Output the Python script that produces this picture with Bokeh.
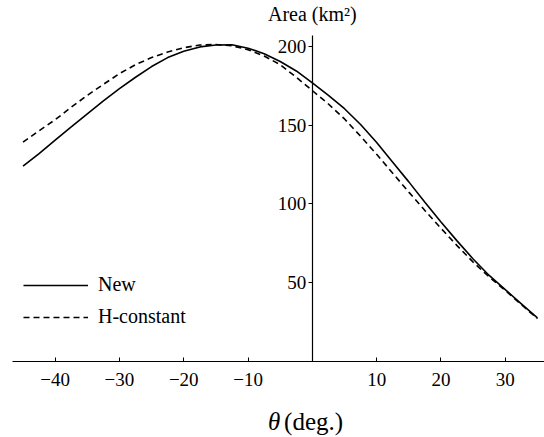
from bokeh.plotting import figure
from bokeh.models import Range1d, FixedTicker, Label, Legend, LegendItem
from bokeh.embed import file_html
from bokeh.resources import INLINE

# Data
theta = [-45, -42.5, -40, -37.5, -35, -32.5, -30, -27.5, -25, -22.5, -20, -17.5,
         -15, -12.5, -10, -7.5, -5, -2.5, 0, 2.5, 5, 7.5, 10, 12.5, 15, 17.5,
         20, 22.5, 25, 27.5, 30, 32.5, 35]
area_new = [124, 132, 140.5, 149, 157.3, 165.5, 173.3, 180.5, 187.3, 193, 197, 199.8,
            201, 201.2, 199, 195.5, 190.5, 184.5, 177, 169, 160.5, 150.5, 139, 126.5,
            114, 101, 88.5, 76.5, 65, 54.5, 45.5, 36.5, 27.5]
area_hconst = [139.3, 146.5, 153.5, 161.5, 169, 176, 182.8, 188.5, 193, 196.5, 199.3, 201,
               201.3, 200.5, 198, 194, 188.5, 180.5, 172, 163.5, 154, 143, 131.5, 119.5,
               107.5, 95.8, 84.5, 73.5, 63, 53.5, 45, 36, 27]

x_ticks = [-40, -30, -20, -10, 10, 20, 30]
x_tick_labels = ["\u221240", "\u221230", "\u221220", "\u221210", "10", "20", "30"]
y_ticks = [50, 100, 150, 200]

series_names = ["New", "H-constant"]
x_title_symbol = "\u03b8"
x_title_rest = "(deg.)"
y_title = "Area (km\u00b2)"

FONT = "Liberation Serif"

p = figure(width=544, height=437,
           x_range=Range1d(-48.5, 36.1), y_range=Range1d(-48.5, 229.3),
           output_backend="svg", toolbar_location=None,
           min_border_left=0, min_border_right=0,
           min_border_top=0, min_border_bottom=0)
p.outline_line_color = None
p.grid.visible = False
p.background_fill_color = "white"
p.border_fill_color = "white"

# x axis crossing at y=0
xa = p.xaxis[0]
xa.fixed_location = 0
xa.bounds = (-46.6, 36.1)
xa.ticker = FixedTicker(ticks=x_ticks)
xa.major_label_overrides = {t: lab for t, lab in zip(x_ticks, x_tick_labels)}
xa.major_tick_in = 4
xa.major_tick_out = 0
xa.minor_tick_line_color = None
xa.axis_line_color = "black"
xa.axis_line_width = 1.2
xa.major_tick_line_color = "black"
xa.major_label_text_font = FONT
xa.major_label_text_font_size = "19px"
xa.major_label_text_color = "black"
xa.major_label_standoff = 12

# y axis crossing at x=0
ya = p.yaxis[0]
ya.fixed_location = 0
ya.bounds = (0, 207)
ya.ticker = FixedTicker(ticks=y_ticks)
ya.major_tick_in = 0
ya.major_tick_out = 4
ya.minor_tick_line_color = None
ya.axis_line_color = "black"
ya.axis_line_width = 1.2
ya.major_tick_line_color = "black"
ya.major_label_text_font = FONT
ya.major_label_text_font_size = "19px"
ya.major_label_text_color = "black"
ya.major_label_standoff = 2

r1 = p.line(theta, area_new, line_color="black", line_width=1.6)
r2 = p.line(theta, area_hconst, line_color="black", line_width=1.6, line_dash="6 4")

legend = Legend(items=[LegendItem(label=series_names[0], renderers=[r1]),
                       LegendItem(label=series_names[1], renderers=[r2])],
                location=(23, 109), orientation="vertical",
                background_fill_alpha=0, border_line_alpha=0,
                padding=0, margin=0, glyph_width=65, glyph_height=20,
                label_height=20, label_standoff=10, spacing=9,
                label_text_font=FONT, label_text_font_size="20px",
                label_text_color="black")
p.add_layout(legend)

p.add_layout(Label(x=0, y=221, text=y_title, text_align="center",
                   text_baseline="middle", text_font=FONT,
                   text_font_size="20px", text_color="black"))
p.add_layout(Label(x=-5.0, y=-38.3, text=x_title_symbol, text_align="right",
                   text_baseline="middle", text_font=FONT, text_font_style="italic",
                   text_font_size="25px", text_color="black"))
p.add_layout(Label(x=-4.4, y=-38.3, text=x_title_rest, text_align="left",
                   text_baseline="middle", text_font=FONT,
                   text_font_size="25px", text_color="black"))

open("out.html", "w").write(file_html(p, INLINE))
